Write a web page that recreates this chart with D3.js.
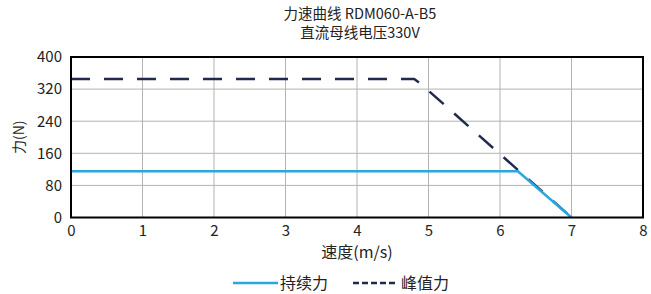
<!DOCTYPE html>
<html><head><meta charset="utf-8">
<script src="https://cdn.jsdelivr.net/npm/d3@7"></script>
<style>body{margin:0;background:#fff;}svg{display:block;font-family:"Noto Sans CJK SC","Noto Sans",sans-serif;}</style>
</head><body>
<svg id="c" width="651" height="294"></svg>
<script>
const titleLines = ["力速曲线 RDM060-A-B5", "直流母线电压330V"];
const xTicks = [0,1,2,3,4,5,6,7,8];
const yTicks = [0,80,160,240,320,400];
const contX = [0, 6.25, 7];
const contY = [115, 115, 0];
const peakX = [0, 4.8, 4.88, 7];
const peakY = [345, 345, 335, 0];
const seriesNames = ["持续力", "峰值力"];
const xLabel = "速度(m/s)";
const yLabel = "力(N)";

const svg = d3.select("#c");
const L=71, R=643, T=57, B=217.5;
const x = d3.scaleLinear().domain([0,8]).range([L,R]);
const y = d3.scaleLinear().domain([0,400]).range([B,T]);
const txt = "#222";

// grid
svg.append("g").selectAll("line").data(xTicks.slice(1,-1)).join("line")
  .attr("x1",d=>x(d)).attr("x2",d=>x(d)).attr("y1",T).attr("y2",B)
  .attr("stroke","#b3b3b3").attr("stroke-width",1);
svg.append("g").selectAll("line").data(yTicks.slice(1,-1)).join("line")
  .attr("x1",L).attr("x2",R).attr("y1",d=>y(d)).attr("y2",d=>y(d))
  .attr("stroke","#b3b3b3").attr("stroke-width",1);

const line = d3.line().x(d=>x(d[0])).y(d=>y(d[1]));
svg.append("path").datum(peakX.map((v,i)=>[v,peakY[i]])).attr("d",line)
  .attr("fill","none").attr("stroke","#1f2a4e").attr("stroke-width",2.5).attr("stroke-dasharray","19,14");
svg.append("path").datum(contX.map((v,i)=>[v,contY[i]])).attr("d",line)
  .attr("fill","none").attr("stroke","#29a8e0").attr("stroke-width",2.5);

// border
svg.append("rect").attr("x",L).attr("y",T).attr("width",R-L).attr("height",B-T)
  .attr("fill","none").attr("stroke","#000").attr("stroke-width",2);

// axes labels
const xa = svg.append("g").attr("transform",`translate(0,${B})`)
  .call(d3.axisBottom(x).tickValues(xTicks).tickSize(0).tickPadding(8).tickFormat(d3.format("d")));
xa.select(".domain").remove();
xa.selectAll("text").attr("font-size",15).attr("fill",txt).attr("font-family",'"Noto Sans CJK SC",sans-serif');
const ya = svg.append("g").attr("transform",`translate(${L},0)`)
  .call(d3.axisLeft(y).tickValues(yTicks).tickSize(0).tickPadding(9).tickFormat(d3.format("d")));
ya.select(".domain").remove();
ya.selectAll("text").attr("font-size",15).attr("fill",txt).attr("font-family",'"Noto Sans CJK SC",sans-serif');

svg.selectAll(".title").data(titleLines).join("text")
  .attr("x",(L+R)/2 + 3).attr("y",(d,i)=>19+i*19).attr("text-anchor","middle")
  .attr("font-size",14.5).attr("fill",txt).text(d=>d);
svg.append("text").attr("x",(L+R)/2).attr("y",258).attr("text-anchor","middle")
  .attr("font-size",16).attr("fill",txt).text(xLabel);
svg.append("text").attr("transform",`translate(24,${(T+B)/2}) rotate(-90)`).attr("text-anchor","middle")
  .attr("font-size",14).attr("fill",txt).text(yLabel);

// legend
const lg = svg.append("g");
const ly = 283;
lg.append("line").attr("x1",233).attr("x2",278).attr("y1",ly).attr("y2",ly).attr("stroke","#29a8e0").attr("stroke-width",2.5);
lg.append("text").attr("x",280).attr("y",ly+6).attr("font-size",16).attr("fill",txt).text(seriesNames[0]);
lg.append("line").attr("x1",353).attr("x2",398).attr("y1",ly).attr("y2",ly).attr("stroke","#1f2a4e").attr("stroke-width",2.5).attr("stroke-dasharray","6,3");
lg.append("text").attr("x",401).attr("y",ly+6).attr("font-size",16).attr("fill",txt).text(seriesNames[1]);
</script>
</body></html>
